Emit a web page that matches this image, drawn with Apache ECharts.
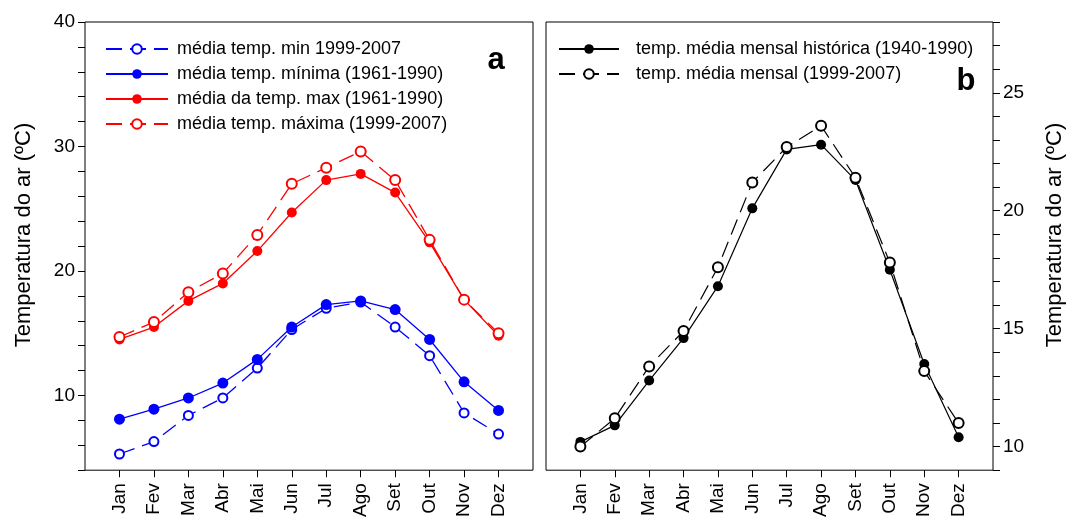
<!DOCTYPE html>
<html>
<head>
<meta charset="utf-8">
<script src="https://cdn.jsdelivr.net/npm/echarts@6/dist/echarts.min.js"></script>
<style>
  html, body { margin: 0; padding: 0; background: #fff; }
  #ch { width: 1071px; height: 520px; }
</style>
</head>
<body>
<div id="ch"></div>
<script>
// meses (com posicoes vazias nas pontas para o espacamento do eixo)
var meses = ['Jan', 'Fev', 'Mar', 'Abr', 'Mai', 'Jun', 'Jul', 'Ago', 'Set', 'Out', 'Nov', 'Dez'];

// painel a
var minRecente = [5.3, 6.3, 8.4, 9.8, 12.2, 15.3, 17.0, 17.5, 15.5, 13.2, 8.6, 6.9];
var minHist = [8.1, 8.9, 9.8, 11.0, 12.9, 15.5, 17.3, 17.6, 16.9, 14.5, 11.1, 8.8];
var maxHist = [14.5, 15.5, 17.6, 19.0, 21.6, 24.7, 27.3, 27.8, 26.3, 22.3, 17.7, 14.8];
var maxRecente = [14.7, 15.9, 18.3, 19.8, 22.9, 27.0, 28.3, 29.6, 27.3, 22.5, 17.7, 15.0];

// painel b
var mediaHist = [10.2, 10.9, 12.8, 14.6, 16.8, 20.1, 22.6, 22.8, 21.3, 17.5, 13.5, 10.4];
var mediaRecente = [10.0, 11.2, 13.4, 14.9, 17.6, 21.2, 22.7, 23.6, 21.4, 17.8, 13.2, 11.0];

var ticksA = [10, 20, 30, 40];
var ticksB = [10, 15, 20, 25];

var cats = [''].concat(meses, ['']);
function pad(arr) { return [null].concat(arr, [null]); }

var fonte = "'Liberation Sans', Arial, sans-serif";

window.onload = function() {
  var ch = echarts.init(document.getElementById('ch'));

  function eixoX(idx) {
    return {
      type: 'category',
      gridIndex: idx,
      data: cats,
      boundaryGap: false,
      axisLine: { show: false },
      axisTick: {
        show: true, length: 7, inside: false,
        lineStyle: { color: '#000', width: 1 },
        interval: function(i) { return i > 0 && i < 13; }
      },
      axisLabel: {
        rotate: 90, margin: 13, fontSize: 19, color: '#000', fontFamily: fonte,
        interval: function(i) { return i > 0 && i < 13; }
      },
      splitLine: { show: false }
    };
  }

  var op = {
    animation: false,
    backgroundColor: '#fff',
    textStyle: { fontFamily: fonte },
    grid: [
      { left: 85, top: 22, width: 448, height: 451, show: true, borderColor: '#000', borderWidth: 1, backgroundColor: 'transparent' },
      { left: 546, top: 22, width: 447, height: 450, show: true, borderColor: '#000', borderWidth: 1, backgroundColor: 'transparent' }
    ],
    xAxis: [eixoX(0), eixoX(1)],
    yAxis: [
      {
        type: 'value', gridIndex: 0, position: 'left',
        min: 4, max: 40, interval: 2,
        axisLine: { show: false },
        axisTick: { show: true, length: 7, lineStyle: { color: '#000', width: 1 } },
        axisLabel: {
          margin: 10, fontSize: 19, color: '#000', fontFamily: fonte,
          formatter: function(v) { return ticksA.indexOf(v) >= 0 ? String(v) : ''; }
        },
        splitLine: { show: false }
      },
      {
        type: 'value', gridIndex: 1, position: 'right',
        min: 9, max: 28, interval: 1,
        axisLine: { show: false },
        axisTick: { show: true, length: 7, lineStyle: { color: '#000', width: 1 } },
        axisLabel: {
          margin: 10, fontSize: 19, color: '#000', fontFamily: fonte,
          formatter: function(v) { return ticksB.indexOf(v) >= 0 ? String(v) : ''; }
        },
        splitLine: { show: false }
      }
    ],
    legend: [
      {
        left: 100, top: 35, orient: 'vertical',
        itemWidth: 62, itemHeight: 12, itemGap: 7,
        selectedMode: false,
        textStyle: { fontSize: 18, color: '#000', fontFamily: fonte, lineHeight: 18, padding: [0, 0, 0, 4] },
        data: ['média temp. min 1999-2007', 'média temp. mínima (1961-1990)', 'média da temp. max (1961-1990)', 'média temp. máxima (1999-2007)']
      },
      {
        left: 553, top: 35, orient: 'vertical',
        itemWidth: 60, itemHeight: 12, itemGap: 7,
        selectedMode: false,
        textStyle: { fontSize: 18, color: '#000', fontFamily: fonte, lineHeight: 18, padding: [0, 0, 0, 12] },
        data: ['temp. média mensal histórica (1940-1990)', 'temp. média mensal (1999-2007)']
      }
    ],
    series: [
      {
        name: 'média temp. min 1999-2007', type: 'line', xAxisIndex: 0, yAxisIndex: 0,
        data: pad(minRecente), symbol: 'emptyCircle', symbolSize: 9,
        lineStyle: { color: '#0000ff', width: 1.3, type: [16, 8] },
        itemStyle: { color: '#0000ff', borderWidth: 1.3 }
      },
      {
        name: 'média temp. mínima (1961-1990)', type: 'line', xAxisIndex: 0, yAxisIndex: 0,
        data: pad(minHist), symbol: 'circle', symbolSize: 11,
        lineStyle: { color: '#0000ff', width: 1.3 },
        itemStyle: { color: '#0000ff' }
      },
      {
        name: 'média da temp. max (1961-1990)', type: 'line', xAxisIndex: 0, yAxisIndex: 0,
        data: pad(maxHist), symbol: 'circle', symbolSize: 10,
        lineStyle: { color: '#ff0000', width: 1.3 },
        itemStyle: { color: '#ff0000' }
      },
      {
        name: 'média temp. máxima (1999-2007)', type: 'line', xAxisIndex: 0, yAxisIndex: 0,
        data: pad(maxRecente), symbol: 'emptyCircle', symbolSize: 10,
        lineStyle: { color: '#ff0000', width: 1.3, type: [16, 8] },
        itemStyle: { color: '#ff0000', borderWidth: 1.3 }
      },
      {
        name: 'temp. média mensal histórica (1940-1990)', type: 'line', xAxisIndex: 1, yAxisIndex: 1,
        data: pad(mediaHist), symbol: 'circle', symbolSize: 10,
        lineStyle: { color: '#000', width: 1.2 },
        itemStyle: { color: '#000' }
      },
      {
        name: 'temp. média mensal (1999-2007)', type: 'line', xAxisIndex: 1, yAxisIndex: 1,
        data: pad(mediaRecente), symbol: 'emptyCircle', symbolSize: 10,
        lineStyle: { color: '#000', width: 1.2, type: [16, 8] },
        itemStyle: { color: '#000', borderWidth: 1.2 }
      }
    ],
    graphic: [
      {
        type: 'text', x: 24, y: 235, rotation: Math.PI / 2,
        style: { text: 'Temperatura do ar (ºC)', fontSize: 22, fontFamily: fonte, fill: '#000', align: 'center', verticalAlign: 'middle' }
      },
      {
        type: 'text', x: 1055, y: 235, rotation: Math.PI / 2,
        style: { text: 'Temperatura do ar (ºC)', fontSize: 22, fontFamily: fonte, fill: '#000', align: 'center', verticalAlign: 'middle' }
      },
      {
        type: 'text', x: 496, y: 60,
        style: { text: 'a', fontSize: 31, fontWeight: 'bold', fontFamily: fonte, fill: '#000', align: 'center', verticalAlign: 'middle' }
      },
      {
        type: 'text', x: 966, y: 81,
        style: { text: 'b', fontSize: 31, fontWeight: 'bold', fontFamily: fonte, fill: '#000', align: 'center', verticalAlign: 'middle' }
      }
    ]
  };

  ch.setOption(op);
};
</script>
</body>
</html>
